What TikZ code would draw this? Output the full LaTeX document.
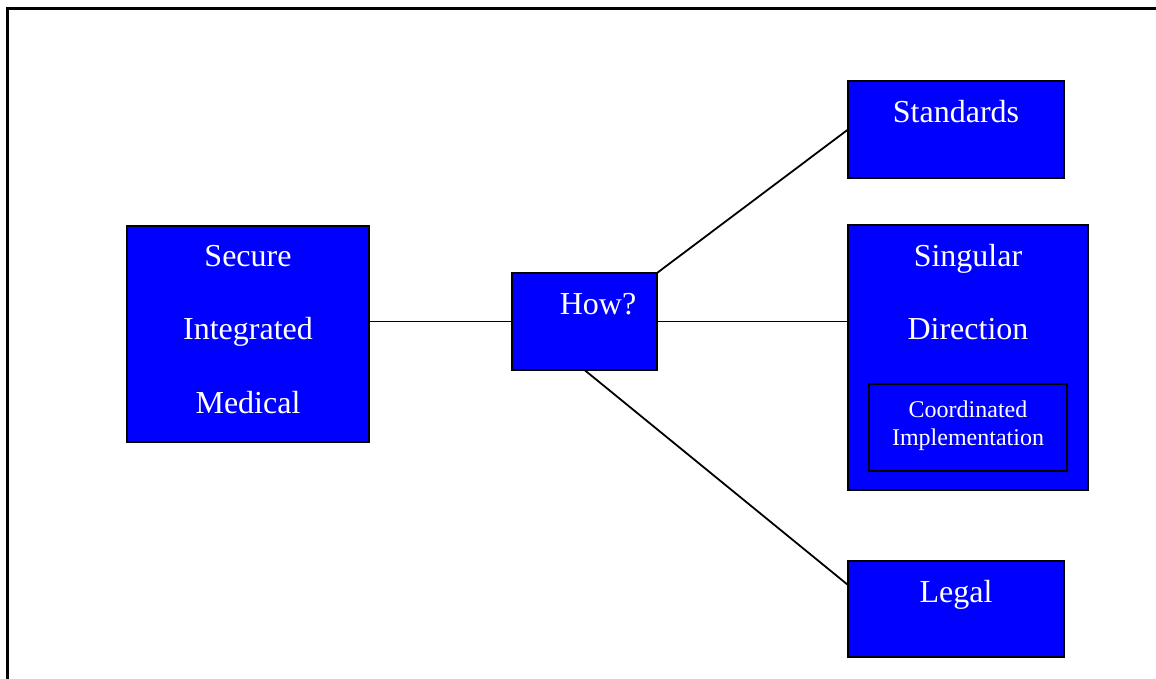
\documentclass[tikz,border=0pt]{standalone}
\usepackage{fontspec}
\setmainfont{Liberation Serif}
\usetikzlibrary{calc}
\definecolor{boxblue}{HTML}{0000FF}
\begin{document}
\begin{tikzpicture}[x=1pt,y=-1pt,
  bluebox/.style={draw=black,line width=1.8pt,fill=boxblue,inner sep=0pt,outer sep=0pt,anchor=center},
  bigtxt/.style={text=white,font=\fontsize{32}{38}\selectfont,anchor=base,inner sep=0pt},
  smalltxt/.style={text=white,font=\fontsize{24}{28}\selectfont,anchor=base,inner sep=0pt},
  link/.style={draw=black,line width=1.8pt}]
\useasboundingbox (0,0) rectangle (1156,679);
\draw[line width=2.5pt] (7.5,680) -- (7.5,8.5) -- (1157,8.5);
% boxes
\node[bluebox,minimum width=242pt,minimum height=216pt] (sim) at (248,334) {};
\node[bluebox,minimum width=145pt,minimum height=97pt] (how) at (584.5,321.5) {};
\node[bluebox,minimum width=216pt,minimum height=97pt] (std) at (956,129.5) {};
\node[bluebox,minimum width=240pt,minimum height=265pt] (sing) at (968,357.5) {};
\node[bluebox,minimum width=198pt,minimum height=87pt] (inner) at (968,427.5) {};
\node[bluebox,minimum width=216pt,minimum height=96pt] (legal) at (956,609) {};
% texts
\node[bigtxt] (t1) at (248,266) {Secure};
\node[bigtxt] (t2) at (248,339) {Integrated};
\node[bigtxt] (t3) at (248,413) {Medical};
\node[bigtxt] (t4) at (598,314) {How?};
\node[bigtxt] (t5) at (956,123) {Standards};
\node[bigtxt] (t6) at (968,266) {Singular};
\node[bigtxt] (t7) at (968,339) {Direction};
\node[smalltxt] (t8) at (968,417) {Coordinated};
\node[smalltxt] (t9) at (968,445) {Implementation};
\node[bigtxt] (t10) at (956,602) {Legal};
% connectors
\draw[link] (sim.east |- how.west) -- (how.west);
\draw[link] (how.north east) -- (std.west);
\draw[link] (how.east) -- (sing.west |- how.east);
\draw[link] (how.south) -- ($(legal.north west)!0.25!(legal.south west)$);
\end{tikzpicture}
\end{document}
